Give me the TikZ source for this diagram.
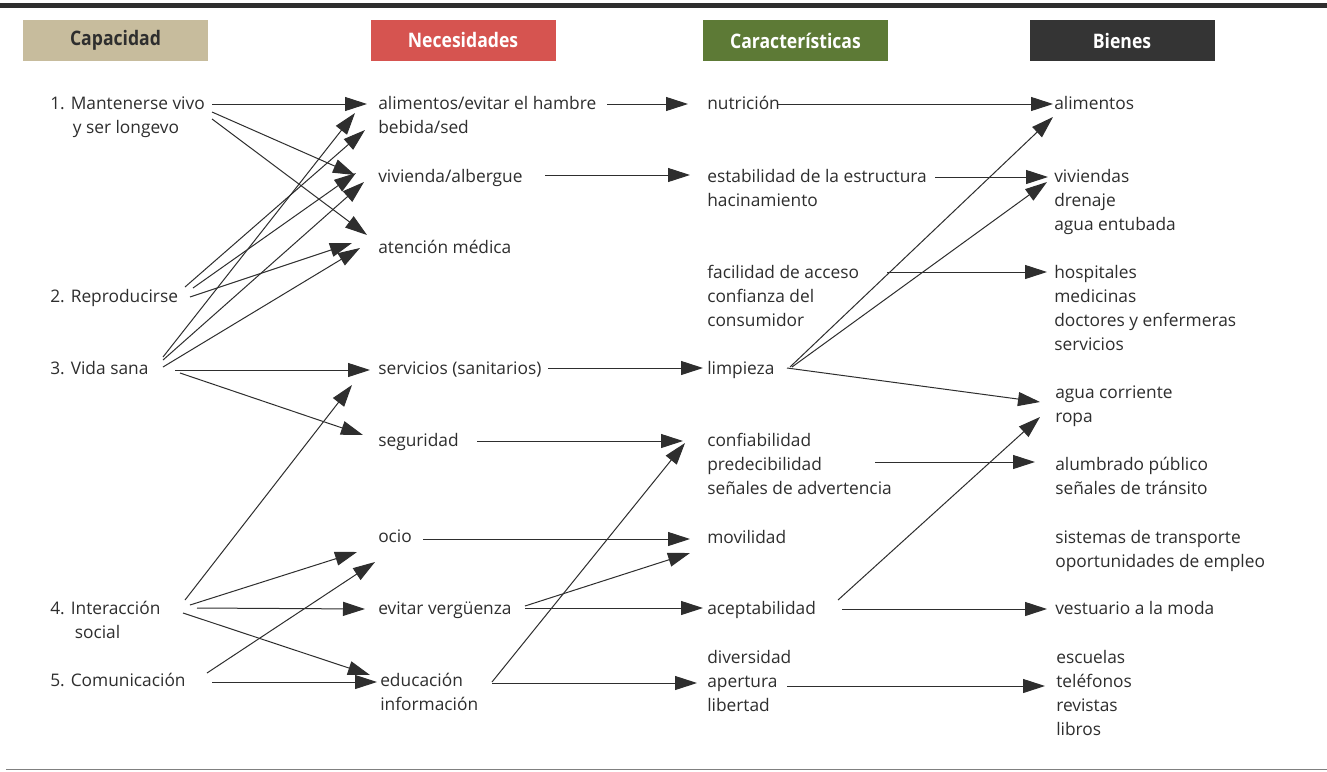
\documentclass[tikz,border=0pt]{standalone}
\usepackage{fontspec}
\setmainfont{Open Sans}
\newfontfamily\hdrfont[FakeStretch=0.88]{Open Sans}
\usetikzlibrary{arrows.meta}
\definecolor{capc}{HTML}{C7BC9D}
\definecolor{necc}{HTML}{D65450}
\definecolor{carc}{HTML}{5D7A36}
\definecolor{bienc}{HTML}{343434}
\definecolor{ink}{HTML}{2E2E2E}
\newcommand{\ml}[1]{\begin{tabular}[t]{@{}l@{}}#1\end{tabular}}
\begin{document}
\begin{tikzpicture}[x=0.75pt,y=-0.75pt,
  txt/.style={anchor=base west, inner sep=0pt, text=ink, font=\fontsize{13}{18}\selectfont},
  hdr/.style={minimum width=138.75pt, minimum height=30.75pt, inner sep=0pt, font=\hdrfont\fontsize{15}{17}\selectfont\bfseries},
  arr/.style={draw=ink, line width=0.75pt, -{Triangle[length=16.5pt,width=10.5pt]}}]
\useasboundingbox (0,0) rectangle (1327,771);
\fill[white] (0,0) rectangle (1327,771);
% rules
\fill[ink] (0,3) rectangle (1327,8);
\draw[gray, line width=0.9pt] (6,769.5) -- (1327,769.5);
% headers
\node[hdr, fill=capc, text=ink] (h1) at (115.5,40.5) {Capacidad};
\node[hdr, fill=necc, text=white] (h2) at (463,40) {Necesidades};
\node[hdr, fill=carc, text=white] (h3) at (795.5,40.5) {Características};
\node[hdr, fill=bienc, text=white] (h4) at (1122,40.5) {Bienes};
% column 1
\node[txt] (c1) at (50,109) {\ml{1. Mantenerse vivo\\\phantom{1. }\hspace{1.5pt}y ser longevo}};
\node[txt] (c2) at (50,302) {2. Reproducirse};
\node[txt] (c3) at (50,374) {3. Vida sana};
\node[txt] (c4) at (50,614) {\ml{4. Interacción\\\phantom{4. }\hspace{3pt}social}};
\node[txt] (c5) at (50,686) {5. Comunicación};
% column 2
\node[txt] (n1) at (378,109) {\ml{alimentos/evitar el hambre\\bebida/sed}};
\node[txt] (n2) at (378,182) {vivienda/albergue};
\node[txt] (n3) at (378,253) {atención médica};
\node[txt] (n4) at (378,374) {servicios (sanitarios)};
\node[txt] (n5) at (378,446) {seguridad};
\node[txt] (n6) at (378,542) {ocio};
\node[txt] (n7) at (378,614) {evitar vergüenza};
\node[txt] (n8) at (380,686) {\ml{educación\\información}};
% column 3
\node[txt] (k1) at (707,109) {nutrición};
\node[txt] (k2) at (707,182) {\ml{estabilidad de la estructura\\hacinamiento}};
\node[txt] (k3) at (707,278) {\ml{facilidad de acceso\\confianza del\\consumidor}};
\node[txt] (k4) at (707,374) {limpieza};
\node[txt] (k5) at (707,446) {\ml{confiabilidad\\predecibilidad\\señales de advertencia}};
\node[txt] (k6) at (707,543) {movilidad};
\node[txt] (k7) at (707,614) {aceptabilidad};
\node[txt] (k8) at (707,663) {\ml{diversidad\\apertura\\libertad}};
% column 4
\node[txt] (b1) at (1054,109) {alimentos};
\node[txt] (b2) at (1054,182) {\ml{viviendas\\drenaje\\agua entubada}};
\node[txt] (b3) at (1054,278) {\ml{hospitales\\medicinas\\doctores y enfermeras\\servicios}};
\node[txt] (b4) at (1055,398) {\ml{agua corriente\\ropa}};
\node[txt] (b5) at (1055,470) {\ml{alumbrado público\\señales de tránsito}};
\node[txt] (b6) at (1055,543) {\ml{sistemas de transporte\\oportunidades de empleo}};
\node[txt] (b7) at (1055,614) {vestuario a la moda};
\node[txt] (b8) at (1056,663) {\ml{escuelas\\teléfonos\\revistas\\libros}};
% arrow end points: column 1 -> column 2
\coordinate (c1a) at (212,104);  \coordinate (n1a) at (367,104);
\coordinate (c1b) at (212,112);  \coordinate (n2a) at (355,175);
\coordinate (c1c) at (212,119);  \coordinate (n3a) at (367,235);
\coordinate (c2a) at (185,287);  \coordinate (n1b) at (365,130);
\coordinate (c2b) at (193,288);  \coordinate (n2b) at (356,173);
\coordinate (c2c) at (190,297);  \coordinate (n3b) at (352,243);
\coordinate (c3a) at (163,357);  \coordinate (n1c) at (355,113);
\coordinate (c3b) at (163,360);  \coordinate (n2c) at (364,182);
\coordinate (c3c) at (163,367);  \coordinate (n3c) at (360,248);
\coordinate (c3d) at (175,370);  \coordinate (n4a) at (370,370);
\coordinate (c3e) at (180,373);  \coordinate (n5a) at (363,435);
\coordinate (c4a) at (185,600);  \coordinate (n4b) at (352,385);
\coordinate (c4b) at (190,605);  \coordinate (n6a) at (357,552);
\coordinate (c4c) at (197,608);  \coordinate (n7a) at (365,609);
\coordinate (c4d) at (183,613);  \coordinate (n8a) at (370,675);
\coordinate (c5a) at (207,673);  \coordinate (n6b) at (375,562);
\coordinate (c5b) at (212,682);  \coordinate (n8b) at (377,682);
% column 2 -> column 3
\coordinate (n1s) at (607,104);  \coordinate (k1a) at (688,104);
\coordinate (n2s) at (545,175);  \coordinate (k2a) at (690,175);
\coordinate (n4s) at (548,368);  \coordinate (k4a) at (703,368);
\coordinate (n5s) at (477,441);  \coordinate (k5a) at (683,441);
\coordinate (n6s) at (423,539);  \coordinate (k6a) at (690,539);
\coordinate (n7s) at (525,606);  \coordinate (k6b) at (690,553);
\coordinate (n7t) at (525,608);  \coordinate (k7a) at (703,608);
\coordinate (n8s) at (492,682);  \coordinate (k5b) at (685,443);
\coordinate (n8t) at (492,683);  \coordinate (k8a) at (697,683);
% column 3 -> column 4
\coordinate (k1s) at (778,104);  \coordinate (b1a) at (1053,104);
\coordinate (k2s) at (935,177);  \coordinate (b2a) at (1048,177);
\coordinate (k3s) at (887,272);  \coordinate (b3a) at (1047,272);
\coordinate (k4s) at (790,367);  \coordinate (b1b) at (1053,117);
\coordinate (k4t) at (792,367);  \coordinate (b2b) at (1047,182);
\coordinate (k4u) at (787,368);  \coordinate (b4a) at (1040,402);
\coordinate (k5s) at (875,462);  \coordinate (b5a) at (1035,462);
\coordinate (k7s) at (838,600);  \coordinate (b4b) at (1040,417);
\coordinate (k7t) at (842,609);  \coordinate (b7a) at (1047,609);
\coordinate (k8s) at (787,686);  \coordinate (b8a) at (1045,686);
% connectors
\foreach \s/\t in {c1a/n1a,c1b/n2a,c1c/n3a,c2a/n1b,c2b/n2b,c2c/n3b,c3a/n1c,c3b/n2c,c3c/n3c,c3d/n4a,c3e/n5a,c4a/n4b,c4b/n6a,c4c/n7a,c4d/n8a,c5a/n6b,c5b/n8b,
  n1s/k1a,n2s/k2a,n4s/k4a,n5s/k5a,n6s/k6a,n7s/k6b,n7t/k7a,n8s/k5b,n8t/k8a,
  k1s/b1a,k2s/b2a,k3s/b3a,k4s/b1b,k4t/b2b,k4u/b4a,k5s/b5a,k7s/b4b,k7t/b7a,k8s/b8a}
  \draw[arr] (\s) -- (\t);
\end{tikzpicture}
\end{document}
